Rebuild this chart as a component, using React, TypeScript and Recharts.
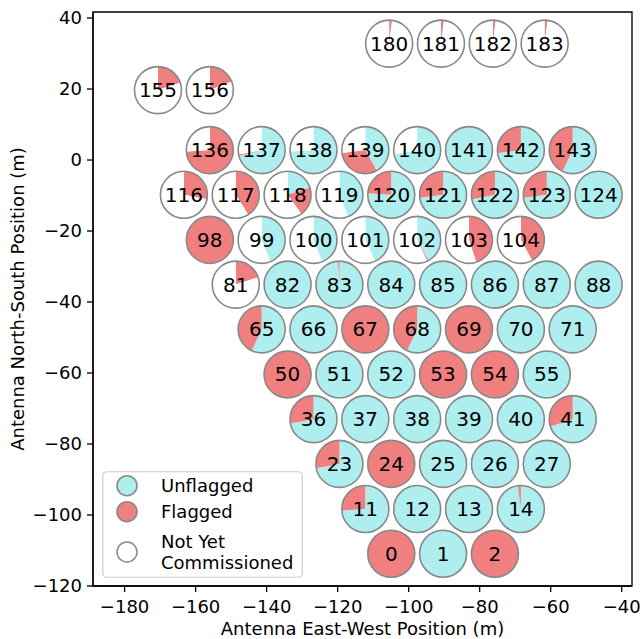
import React from 'react';
import { ScatterChart, Scatter, XAxis, YAxis, ReferenceArea, Legend } from 'recharts';

// antenna numbers, row by row from the south
const ANT_IDS = [
  0, 1, 2,
  11, 12, 13, 14,
  23, 24, 25, 26, 27,
  36, 37, 38, 39, 40, 41,
  50, 51, 52, 53, 54, 55,
  65, 66, 67, 68, 69, 70, 71,
  81, 82, 83, 84, 85, 86, 87, 88,
  98, 99, 100, 101, 102, 103, 104,
  116, 117, 118, 119, 120, 121, 122, 123, 124,
  136, 137, 138, 139, 140, 141, 142, 143,
  155, 156,
  180, 181, 182, 183,
];

// east-west position (m)
const ANT_EAST = [
  -104.9, -90.3, -75.7,
  -112.2, -97.6, -83.0, -68.4,
  -119.5, -104.9, -90.3, -75.7, -61.1,
  -126.8, -112.2, -97.6, -83.0, -68.4, -53.8,
  -134.1, -119.5, -104.9, -90.3, -75.7, -61.1,
  -141.4, -126.8, -112.2, -97.6, -83.0, -68.4, -53.8,
  -148.7, -134.1, -119.5, -104.9, -90.3, -75.7, -61.1, -46.5,
  -156.0, -141.4, -126.8, -112.2, -97.6, -83.0, -68.4,
  -163.3, -148.7, -134.1, -119.5, -104.9, -90.3, -75.7, -61.1, -46.5,
  -156.0, -141.4, -126.8, -112.2, -97.6, -83.0, -68.4, -53.8,
  -170.6, -156.0,
  -105.5, -90.9, -76.3, -61.7,
];

// north-south position (m)
const ANT_NORTH = [
  -110.9, -110.9, -110.9,
  -98.3, -98.3, -98.3, -98.3,
  -85.6, -85.6, -85.6, -85.6, -85.6,
  -73.0, -73.0, -73.0, -73.0, -73.0, -73.0,
  -60.4, -60.4, -60.4, -60.4, -60.4, -60.4,
  -47.7, -47.7, -47.7, -47.7, -47.7, -47.7, -47.7,
  -35.1, -35.1, -35.1, -35.1, -35.1, -35.1, -35.1, -35.1,
  -22.5, -22.5, -22.5, -22.5, -22.5, -22.5, -22.5,
  -9.8, -9.8, -9.8, -9.8, -9.8, -9.8, -9.8, -9.8, -9.8,
  2.8, 2.8, 2.8, 2.8, 2.8, 2.8, 2.8, 2.8,
  19.7, 19.7,
  32.8, 32.8, 32.8, 32.8,
];

// fraction of time unflagged / flagged; the rest is not yet commissioned
const UNFLAGGED = [
  0, 1, 0,
  0.74, 1, 1, 0.98,
  0.72, 0, 1, 1, 1,
  0.72, 1, 1, 1, 1, 0.7,
  0, 1, 1, 0, 0, 1,
  0.57, 1, 0, 0.57, 0, 1, 1,
  0, 1, 0.99, 1, 1, 1, 1, 1,
  0, 0.44, 0.44, 0.43, 0.42, 0, 0,
  0, 0, 0.2, 0.44, 0.76, 0.73, 0.72, 0.73, 1,
  0, 0.71, 0.74, 0.42, 0.72, 1, 0.73, 0.57,
  0, 0,
  0, 0, 0, 0,
];

const FLAGGED = [
  1, 0, 1,
  0.26, 0, 0, 0.02,
  0.28, 1, 0, 0, 0,
  0.28, 0, 0, 0, 0, 0.3,
  1, 0, 0, 1, 1, 0,
  0.43, 0, 1, 0.43, 1, 0, 0,
  0.2, 0, 0.01, 0, 0, 0, 0, 0,
  1, 0, 0, 0, 0.01, 0.45, 0.42,
  0.28, 0.41, 0.2, 0, 0.24, 0.27, 0.28, 0.27, 0,
  0.74, 0.01, 0, 0.31, 0, 0, 0.27, 0.43,
  0.2, 0.19,
  0.02, 0.02, 0.02, 0.02,
];

const X_TICKS = [-180, -160, -140, -120, -100, -80, -60, -40];
const Y_TICKS = [-120, -100, -80, -60, -40, -20, 0, 20, 40];
const LEGEND_LABELS = ['Unflagged', 'Flagged', 'Not Yet\nCommissioned'];

const X_MIN = -188.9;
const X_MAX = -37.1;
const Y_MIN = -120;
const Y_MAX = 41.7;

const CYAN = '#afeeee';
const RED = '#f08080';
const WHITE = '#ffffff';
const EDGE = '#888888';
const R = 23.5;
const FONT = 'DejaVu Sans, sans-serif';

const data = ANT_IDS.map((id, i) => ({
  id,
  x: ANT_EAST[i],
  y: ANT_NORTH[i],
  unflagged: UNFLAGGED[i],
  flagged: FLAGGED[i],
  notCommissioned: Math.max(0, 1 - UNFLAGGED[i] - FLAGGED[i]),
}));

const fmt = (v: number) => (v < 0 ? '\u2212' + Math.abs(v) : String(v));

// pie drawn at the scaled point: clockwise from 12 o'clock, unflagged, flagged, not commissioned
const AntennaPie = (props: any) => {
  const { cx, cy, payload } = props;
  if (cx == null || cy == null) return null;
  const parts = [
    { frac: payload.unflagged, color: CYAN },
    { frac: payload.flagged, color: RED },
    { frac: payload.notCommissioned, color: WHITE },
  ];
  let start = 0;
  const wedges: React.ReactNode[] = [];
  parts.forEach((p, i) => {
    if (p.frac <= 0.0001) return;
    if (p.frac >= 0.9999) {
      wedges.push(<circle key={i} cx={cx} cy={cy} r={R} fill={p.color} />);
    } else {
      const a0 = start * 2 * Math.PI;
      const a1 = (start + p.frac) * 2 * Math.PI;
      const x0 = cx + R * Math.sin(a0);
      const y0 = cy - R * Math.cos(a0);
      const x1 = cx + R * Math.sin(a1);
      const y1 = cy - R * Math.cos(a1);
      const large = p.frac > 0.5 ? 1 : 0;
      wedges.push(
        <path
          key={i}
          d={`M${cx},${cy} L${x0},${y0} A${R},${R} 0 ${large} 1 ${x1},${y1} Z`}
          fill={p.color}
        />
      );
    }
    start += p.frac;
  });
  return (
    <g>
      {wedges}
      <circle cx={cx} cy={cy} r={R} fill="none" stroke={EDGE} strokeWidth={1.6} />
      <text
        x={cx}
        y={cy}
        textAnchor="middle"
        dominantBaseline="central"
        fontSize={20}
        fontFamily={FONT}
        fill="#000"
      >
        {payload.id}
      </text>
    </g>
  );
};

const LegendBox = () => {
  const colors = [CYAN, RED, WHITE];
  const rows = [14.7, 40.7, 81];
  return (
    <svg width={202} height={108} style={{ display: 'block' }}>
      <rect x={0.75} y={0.75} width={199.5} height={105.5} rx={4} fill="#fff" fillOpacity={0.8} stroke="#cccccc" strokeWidth={1.2} />
      {LEGEND_LABELS.map((label, i) => {
        const lines = label.split('\n');
        const top = rows[i] - ((lines.length - 1) * 20.7) / 2;
        return (
          <g key={label}>
            <circle cx={25} cy={rows[i]} r={10} fill={colors[i]} stroke={EDGE} strokeWidth={1.5} />
            {lines.map((ln, j) => (
              <text
                key={j}
                x={59}
                y={top + j * 20.7}
                dominantBaseline="central"
                fontSize={18}
                fontFamily={FONT}
                fill="#000"
              >
                {ln}
              </text>
            ))}
          </g>
        );
      })}
    </svg>
  );
};

const App: React.FC = () => {
  return (
    <div style={{ position: 'absolute', left: 0, top: 0, fontFamily: FONT }}>
      <ScatterChart width={642} height={639} margin={{ top: 12, right: 10, bottom: 0, left: 0 }} style={{ fontFamily: FONT }}>
        <XAxis
          type="number"
          dataKey="x"
          domain={[X_MIN, X_MAX]}
          ticks={X_TICKS}
          allowDataOverflow
          height={53}
          tickFormatter={fmt}
          tick={{ fill: '#000', fontSize: 18 }}
          tickLine={{ stroke: '#000', strokeWidth: 1.3 }}
          axisLine={{ stroke: '#000', strokeWidth: 1.3 }}
          tickSize={6}
          tickMargin={8}
          label={{ value: 'Antenna East-West Position (m)', position: 'insideBottom', offset: 4, fill: '#000', fontSize: 18 }}
        />
        <YAxis
          type="number"
          dataKey="y"
          domain={[Y_MIN, Y_MAX]}
          ticks={Y_TICKS}
          allowDataOverflow
          width={93}
          tickFormatter={fmt}
          tick={{ fill: '#000', fontSize: 18 }}
          tickLine={{ stroke: '#000', strokeWidth: 1.3 }}
          axisLine={{ stroke: '#000', strokeWidth: 1.3 }}
          tickSize={6}
          tickMargin={5}
          label={{
            value: 'Antenna North-South Position (m)',
            angle: -90,
            position: 'insideLeft',
            offset: 18,
            fill: '#000',
            fontSize: 18,
            style: { textAnchor: 'middle' },
          }}
        />
        <ReferenceArea x1={X_MIN} x2={X_MAX} y1={Y_MIN} y2={Y_MAX} fill="none" stroke="#000" strokeWidth={1.3} strokeOpacity={1} />
        <Scatter data={data} shape={AntennaPie} isAnimationActive={false} />
        <Legend
          layout="vertical"
          align="center"
          verticalAlign="middle"
          wrapperStyle={{ left: 102, top: 471, width: 202 }}
          content={() => <LegendBox />}
        />
      </ScatterChart>
    </div>
  );
};

export default App;
